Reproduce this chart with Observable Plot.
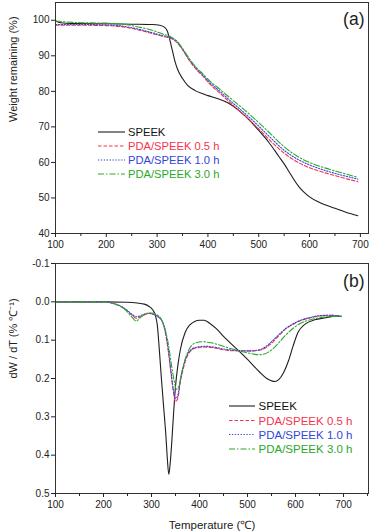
<!DOCTYPE html>
<html><head><meta charset="utf-8">
<script src="https://cdn.jsdelivr.net/npm/d3@7"></script>
<script src="https://cdn.jsdelivr.net/npm/@observablehq/plot@0.6"></script>
<style>
body{margin:0;background:#fff;font-family:"Liberation Sans",Arial,sans-serif;}
#wrap{position:relative;width:371px;height:532px;overflow:hidden;}
#wrap svg{display:block}
#overlay{position:absolute;left:0;top:0;pointer-events:none}
</style></head><body><div id="wrap"></div>
<script>
// ---- series meta ----
const seriesNames = ["SPEEK", "PDA/SPEEK 0.5 h", "PDA/SPEEK 1.0 h", "PDA/SPEEK 3.0 h"];
const seriesColors = ["#1e1e1e", "#f5334f", "#3346d8", "#2aa82a"];
const seriesDash = [null, "3.5,2", "1.3,1.6", "6,2,1.5,2"];

// ---- panel (a): TGA, weight remaining (%) ----
const tgaSpeekT = [100,110,130,150,200,250,290,305,315,320,325,330,335,340,350,360,375,390,400,420,440,460,480,500,520,540,550,560,570,580,590,600,620,650,680,695];
const tgaSpeekW = [99.8,99.3,99.1,99.1,99.0,98.9,98.8,98.6,98.0,97.0,94.5,91.5,88.5,86.3,83.6,81.7,80.2,79.3,78.8,77.9,76.7,74.7,72.1,69.0,65.6,61.6,59.6,57.3,55.0,53.0,51.5,50.3,48.7,47.1,45.6,45.0];
const tgaPdaT = [100,150,200,230,260,290,310,330,340,350,360,370,380,390,400,425,450,475,500,525,550,575,600,625,650,675,695];
const tgaPda05W = [98.6,98.6,98.5,98.2,97.4,96.3,95.5,94.7,93.6,91.7,89.4,87.4,85.7,84.3,82.6,79.3,76.0,72.8,69.4,65.8,62.6,60.2,58.5,57.3,56.3,55.3,54.6];
const tgaPda10W = [98.8,98.8,98.7,98.4,97.6,96.5,95.7,94.9,93.8,91.9,89.7,87.7,86.0,84.6,83.0,79.8,76.6,73.5,70.2,66.7,63.4,61.0,59.3,58.0,56.9,56.0,55.3];
const tgaPda30W = [99.8,99.3,99.2,99.0,98.2,97.2,96.2,95.1,94.0,92.1,89.9,87.9,86.3,84.9,83.4,80.4,77.4,74.4,71.2,67.8,64.4,61.8,60.0,58.7,57.6,56.6,55.8];

// ---- panel (b): DTG, dW/dT ----
const dtgSpeekT = [100,200,250,270,285,295,302,308,312,316,320,325,330,333,336,339,342,346,350,355,360,370,380,390,400,410,420,435,450,475,500,525,540,550,557,565,575,585,595,605,620,640,660,680,695];
const dtgSpeekD = [0,0,0.001,0.003,0.006,0.012,0.02,0.035,0.06,0.12,0.19,0.27,0.35,0.41,0.45,0.42,0.37,0.29,0.22,0.165,0.125,0.08,0.06,0.051,0.048,0.048,0.055,0.07,0.09,0.12,0.15,0.183,0.2,0.206,0.208,0.203,0.185,0.155,0.115,0.08,0.058,0.047,0.042,0.038,0.038];
const dtgPdaT = [100,200,220,240,255,262,268,275,285,295,305,315,322,328,334,340,345,350,355,360,367,375,385,395,410,430,450,480,505,525,540,550,560,570,580,590,600,615,630,650,670,685,695];
const dtgPda05D = [0,0,0.004,0.015,0.03,0.038,0.043,0.04,0.034,0.03,0.033,0.04,0.05,0.075,0.12,0.18,0.23,0.26,0.25,0.21,0.17,0.14,0.125,0.12,0.118,0.12,0.125,0.128,0.128,0.126,0.118,0.108,0.095,0.082,0.07,0.062,0.055,0.047,0.042,0.037,0.035,0.036,0.038];
const dtgPda10D = [0,0,0.004,0.014,0.028,0.035,0.039,0.037,0.032,0.03,0.033,0.04,0.05,0.073,0.115,0.175,0.225,0.252,0.243,0.205,0.165,0.137,0.122,0.118,0.116,0.118,0.123,0.127,0.128,0.125,0.115,0.104,0.092,0.08,0.069,0.061,0.054,0.046,0.041,0.036,0.035,0.036,0.038];
const dtgPda30T = [100,200,225,245,258,268,278,290,300,310,320,328,335,341,347,352,357,362,370,380,390,405,420,440,460,480,500,515,525,535,545,555,565,575,585,595,605,620,640,660,680,695];
const dtgPda30D = [0,0,0.006,0.02,0.038,0.05,0.04,0.03,0.029,0.033,0.045,0.07,0.11,0.16,0.205,0.228,0.22,0.19,0.15,0.12,0.108,0.104,0.106,0.112,0.12,0.127,0.133,0.137,0.138,0.136,0.13,0.12,0.107,0.093,0.08,0.069,0.06,0.051,0.044,0.04,0.038,0.038];

// ---- ticks ----
const xMajorTicks = [100,200,300,400,500,600,700];
const xMinorTicksA = [150,250,350,450,550,650];
const xMinorTicksB = [150,250,350,450,550,650,750];
const yTicksA = [40,50,60,70,80,90,100];
const yTicksB = [-0.1,0,0.1,0.2,0.3,0.4,0.5];

const zip = (T, V) => T.map((t, i) => ({t, v: V[i]}));
const tgaSeries = [zip(tgaSpeekT, tgaSpeekW), zip(tgaPdaT, tgaPda05W), zip(tgaPdaT, tgaPda10W), zip(tgaPdaT, tgaPda30W)];
const dtgSeries = [zip(dtgSpeekT, dtgSpeekD), zip(dtgPdaT, dtgPda05D), zip(dtgPdaT, dtgPda10D), zip(dtgPda30T, dtgPda30D)];

const FONT = "Liberation Sans, Arial, sans-serif";
const lineMarks = (series) => series.map((s, i) => Plot.line(s, {
  x: "t", y: "v", stroke: seriesColors[i], strokeWidth: 1.1,
  strokeDasharray: seriesDash[i] || undefined, curve: "monotone-x"
}));

const axisStyle = {fontFamily: FONT, fontSize: "10px", color: "#222", background: "#fff", overflow: "visible"};

const plotA = Plot.plot({
  width: 371, height: 252, marginLeft: 55, marginRight: 3, marginTop: 2, marginBottom: 19,
  style: axisStyle,
  x: {domain: [100, 716]},
  y: {domain: [40, 105]},
  marks: [
    ...lineMarks(tgaSeries),
    Plot.frame({stroke: "#333", strokeWidth: 1}),
    Plot.axisX({ticks: xMajorTicks, tickSize: 4, tickPadding: 3, label: null, tickFormat: d => String(d)}),
    Plot.axisX({ticks: xMinorTicksA, tickSize: 3, label: null, tickFormat: () => ""}),
    Plot.axisY({ticks: yTicksA, tickSize: 4, tickPadding: 2, label: null, tickFormat: d => String(d)}),
    Plot.text(["Weight remaining (%)"], {frameAnchor: "left", rotate: -90, dx: -42, dy: 4, fontSize: 11, fill: "#222", text: d => d}),
    Plot.text(["(a)"], {frameAnchor: "top-right", dx: -4, dy: 17, fontSize: 17.5, textAnchor: "end", lineAnchor: "middle", fill: "#222", text: d => d})
  ]
});

const plotB = Plot.plot({
  width: 371, height: 280, marginLeft: 55, marginRight: 3, marginTop: 11, marginBottom: 39,
  style: axisStyle,
  x: {domain: [100, 752]},
  y: {domain: [-0.1, 0.5], reverse: true},
  marks: [
    ...lineMarks(dtgSeries),
    Plot.frame({stroke: "#333", strokeWidth: 1}),
    Plot.axisX({ticks: xMajorTicks, tickSize: 4, tickPadding: 3, label: null, tickFormat: d => String(d)}),
    Plot.axisX({ticks: xMinorTicksB, tickSize: 3, label: null, tickFormat: () => ""}),
    Plot.axisY({ticks: yTicksB, tickSize: 4, tickPadding: 2, label: null, tickFormat: d => d.toFixed(1)}),
    Plot.text(["dW / dT (% \u2103\u207B\u00B9)"], {frameAnchor: "left", rotate: -90, dx: -42, fontSize: 11, fill: "#222", text: d => d}),
    Plot.text(["Temperature (\u2103)"], {frameAnchor: "bottom", dy: 32, fontSize: 11.5, lineAnchor: "middle", fill: "#222", text: d => d}),
    Plot.text(["(b)"], {frameAnchor: "top-right", dx: -4, dy: 18, fontSize: 17.5, textAnchor: "end", lineAnchor: "middle", fill: "#222", text: d => d})
  ]
});

const wrap = document.getElementById("wrap");
wrap.appendChild(plotA);
wrap.appendChild(plotB);

// ---- legends (overlay) ----
const overlay = d3.select(wrap).append("svg").attr("id", "overlay").attr("width", 371).attr("height", 532);
function legend(x0, x1, tx, ys, fs) {
  const g = overlay.append("g");
  seriesNames.forEach((name, i) => {
    g.append("line").attr("x1", x0).attr("x2", x1).attr("y1", ys[i]).attr("y2", ys[i])
      .attr("stroke", seriesColors[i]).attr("stroke-width", 1.1)
      .attr("stroke-dasharray", seriesDash[i]);
    g.append("text").attr("x", tx).attr("y", ys[i]).attr("dy", "0.36em")
      .attr("font-family", FONT).attr("font-size", fs)
      .attr("fill", i === 0 ? "#111" : seriesColors[i]).text(name);
  });
}
legend(98, 125, 128, [132, 146, 160, 174], 11.2);
legend(229, 255, 258.5, [406, 420.5, 434.5, 449], 11.5);
</script>
</body></html>
